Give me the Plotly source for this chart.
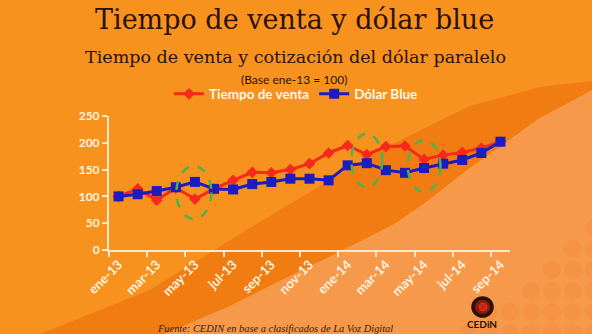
import plotly.graph_objects as go

# ---- data ----
months = ["ene-13", "feb-13", "mar-13", "abr-13", "may-13", "jun-13", "jul-13",
          "ago-13", "sep-13", "oct-13", "nov-13", "dic-13", "ene-14", "feb-14",
          "mar-14", "abr-14", "may-14", "jun-14", "jul-14", "ago-14", "sep-14"]
tiempo_venta = [100, 114, 93, 116, 95, 114, 130, 145, 144, 150, 161, 181, 195, 178,
                193, 194, 169, 177, 182, 190, 202]
dolar_blue = [100, 104, 110, 117, 127, 114, 113, 123, 127, 133, 133, 130, 158, 162,
              149, 144, 153, 161, 168, 181, 202]
y_ticks = [0, 50, 100, 150, 200, 250]

W, H = 592, 334
L, R, T, B = 109, 82, 116, 84
PW, PH = W - L - R, H - T - B


def px(x):
    return (x - L) / PW


def py(y):
    return (H - B - y) / PH


def path(points):
    return "M " + " L ".join(f"{px(x):.4f},{py(y):.4f}" for x, y in points) + " Z"


idx = list(range(len(months)))

fig = go.Figure()
fig.add_trace(go.Scatter(
    x=idx, y=tiempo_venta, mode="lines+markers", name="<b>Tiempo de venta</b>",
    line=dict(color="#f52a1c", width=3),
    marker=dict(symbol="diamond", size=9, color="#f52a1c"),
))
fig.add_trace(go.Scatter(
    x=idx, y=dolar_blue, mode="lines+markers", name="<b>Dólar Blue</b>",
    line=dict(color="#1c1cc0", width=3),
    marker=dict(symbol="square", size=10, color="#1c1cc0"),
))

shapes = []
# background bands
upper = [(40, 334), (150, 290), (250, 228), (380, 150), (470, 106), (540, 87), (600, 80)]
lower = [(600, 86), (540, 118), (509, 140), (463, 173), (429, 200), (396, 223),
         (363, 240), (329, 257), (296, 273), (230, 306), (165, 334)]
shapes.append(dict(type="path", xref="paper", yref="paper", layer="below",
                   path=path(upper + lower + [(40, 340)]),
                   fillcolor="#f07c12", line=dict(width=0)))
shapes.append(dict(type="path", xref="paper", yref="paper", layer="below",
                   path=path(lower + [(165, 340), (600, 340)]),
                   fillcolor="#f7994a", line=dict(width=0)))

# decorative dot pattern (lower right)
for cy in range(228, 345, 21):
    for cx in range(447, 605, 21):
        if cx > 610 - (cy - 210) * 1.2:
            shapes.append(dict(type="circle", xref="paper", yref="paper", layer="below",
                               x0=px(cx - 9), x1=px(cx + 9), y0=py(cy + 9), y1=py(cy - 9),
                               fillcolor="rgba(236,112,30,0.16)", line=dict(width=0)))

# dashed green ellipses
for x0, x1, y0, y1 in [(3.03, 4.86, 58, 157), (12.19, 13.81, 117, 217), (15.15, 16.86, 108, 205)]:
    shapes.append(dict(type="circle", xref="x", yref="y", x0=x0, x1=x1, y0=y0, y1=y1,
                       line=dict(color="#52b04c", width=2.5, dash="dash"), layer="above"))

# logo ring
shapes.append(dict(type="circle", xref="paper", yref="paper",
                   x0=px(473), x1=px(492), y0=py(316), y1=py(298),
                   line=dict(color="#2a1206", width=3.5), fillcolor="#8a1a10"))
shapes.append(dict(type="circle", xref="paper", yref="paper",
                   x0=px(479), x1=px(487), y0=py(311), y1=py(303),
                   line=dict(color="#e03020", width=1), fillcolor="#c02818"))

annotations = [
    dict(text="Tiempo de venta y dólar blue", x=px(294), y=py(20), xref="paper", yref="paper",
         showarrow=False, xanchor="center", yanchor="middle",
         font=dict(family="DejaVu Serif", size=27, color="#2a1206")),
    dict(text="Tiempo de venta y cotización del dólar paralelo", x=px(295), y=py(57),
         xref="paper", yref="paper", showarrow=False, xanchor="center", yanchor="middle",
         font=dict(family="DejaVu Serif", size=17.5, color="#2a1206")),
    dict(text="(Base ene-13 = 100)", x=px(294), y=py(79), xref="paper", yref="paper",
         showarrow=False, xanchor="center", yanchor="middle",
         font=dict(family="Lato", size=12, color="#2a1206")),
    dict(text="<i>Fuente: CEDIN en base a clasificados de La Voz Digital</i>", x=px(275), y=py(328),
         xref="paper", yref="paper", showarrow=False, xanchor="center", yanchor="middle",
         font=dict(family="Liberation Serif", size=10.4, color="#3a1a08")),
    dict(text="<b>CEDiN</b>", x=px(482), y=py(324), xref="paper", yref="paper",
         showarrow=False, xanchor="center", yanchor="middle",
         font=dict(family="Lato", size=10, color="#2a1206")),
]

fig.update_layout(
    width=W, height=H,
    margin=dict(l=L, r=R, t=T, b=B, pad=0),
    paper_bgcolor="#f7921e",
    plot_bgcolor="rgba(0,0,0,0)",
    shapes=shapes,
    annotations=annotations,
    showlegend=True,
    legend=dict(orientation="h", x=px(296), y=py(94), xanchor="center", yanchor="middle",
                bgcolor="rgba(0,0,0,0)", font=dict(family="Lato", size=13.5, color="#fff6e8"),
                itemwidth=30, tracegroupgap=0),
    xaxis=dict(
        range=[-0.5, 20.5], tickmode="array",
        tickvals=idx[::2], ticktext=months[::2], tickangle=-45,
        ticks="", showgrid=False, zeroline=False,
        showline=True, linecolor="#fde6c4", linewidth=2,
        tickfont=dict(family="Lato", size=13, color="#fff3e0", weight="bold"),
        minor=dict(tickmode="array", tickvals=[i - 0.5 for i in range(0, 22, 2)],
                   ticks="outside", ticklen=5, tickwidth=2, tickcolor="#fde6c4", showgrid=False),
        fixedrange=True,
    ),
    yaxis=dict(
        range=[0, 250], tickmode="array", tickvals=y_ticks,
        ticks="outside", ticklen=5, tickwidth=2, tickcolor="#fde6c4",
        showgrid=False, zeroline=False,
        showline=True, linecolor="#fde6c4", linewidth=2,
        tickfont=dict(family="Lato", size=12, color="#fff3e0", weight="bold"),
        fixedrange=True,
    ),
)

fig.write_html("out.html", config={"displayModeBar": False})
